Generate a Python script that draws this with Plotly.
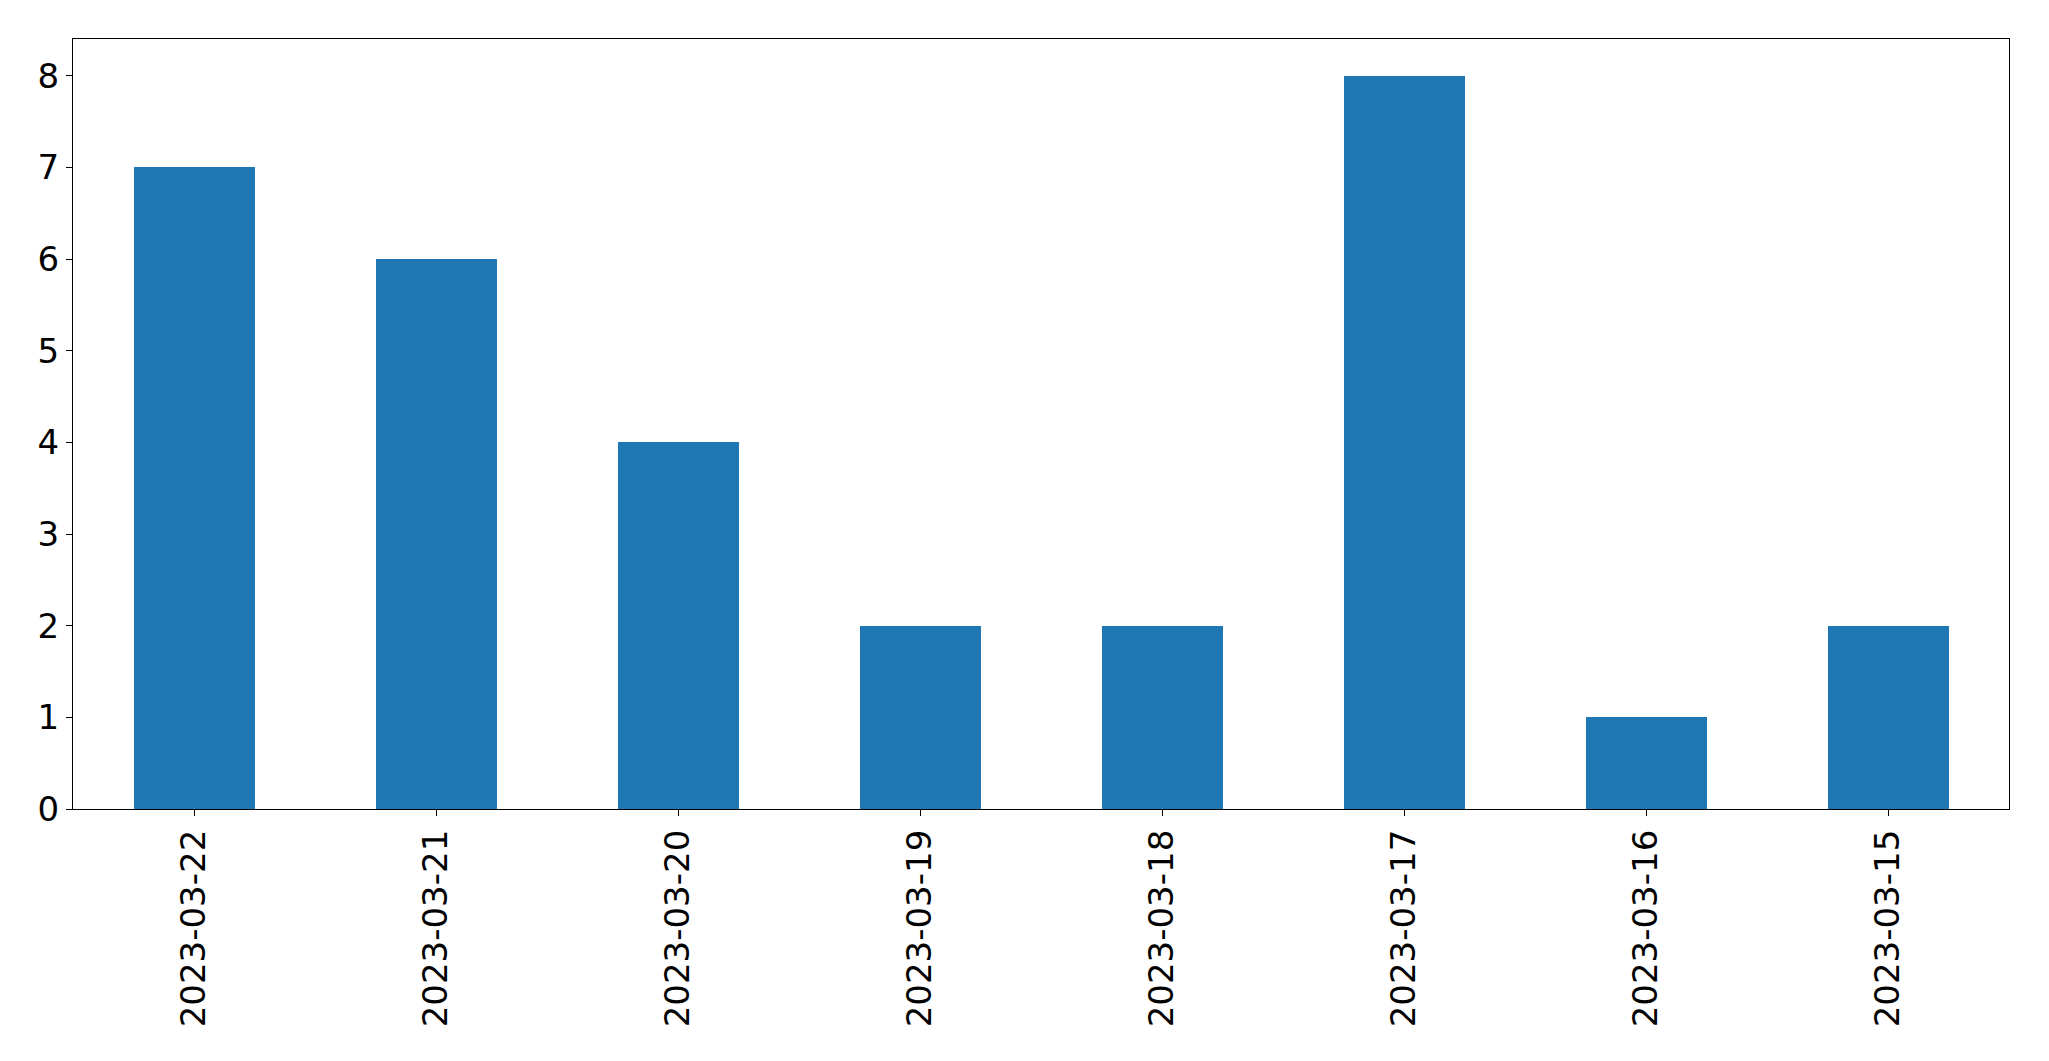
import plotly.graph_objects as go

dates = ["2023-03-22", "2023-03-21", "2023-03-20", "2023-03-19",
         "2023-03-18", "2023-03-17", "2023-03-16", "2023-03-15"]
counts = [7, 6, 4, 2, 2, 8, 1, 2]

fig = go.Figure(go.Bar(x=dates, y=counts, marker_color="#1f77b4",
                       marker_line_width=0, width=0.5))

# page body has an 8px margin, so the figure is shrunk by that much
fig.update_layout(
    width=2033, height=1045,
    margin=dict(l=65, r=32, t=31, b=244, autoexpand=False),
    plot_bgcolor="white", paper_bgcolor="white",
    font=dict(family="DejaVu Sans", size=34, color="black"),
    showlegend=False,
    bargap=0,
)
fig.update_xaxes(type="category", range=[-0.5, 7.5], tickangle=-90,
                 showline=True, linecolor="black", linewidth=1.3, mirror=True,
                 ticks="outside", ticklen=6, tickwidth=1.3, tickcolor="black",
                 showgrid=False, zeroline=False)
fig.update_yaxes(range=[0, 8.4], dtick=1,
                 showline=True, linecolor="black", linewidth=1.3, mirror=True,
                 ticks="outside", ticklen=6, tickwidth=1.3, tickcolor="black",
                 showgrid=False, zeroline=False)

fig.write_html("out.html")
